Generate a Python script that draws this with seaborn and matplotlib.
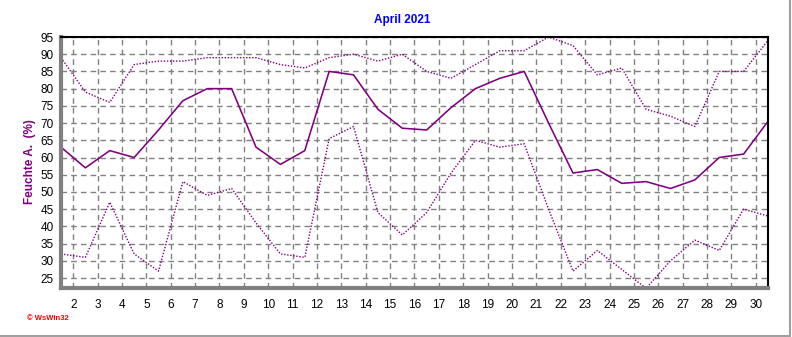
import numpy as np
import pandas as pd
import matplotlib
matplotlib.use("Agg")
import matplotlib.pyplot as plt
from matplotlib.lines import Line2D
import seaborn as sns

days = list(range(1, 31))
hum_max = [89, 79, 76, 87, 88, 88, 89, 89, 89, 87, 86, 89, 90, 88, 90,
           85, 83, 87, 91, 91, 95, 92.5, 84, 86, 74, 72, 69, 85, 85, 94]
hum_mean = [63, 57, 62, 60, 68, 76.5, 80, 80, 63, 58, 62, 85, 84, 74, 68.5,
            68, 74.5, 80, 83, 85, 70, 55.5, 56.5, 52.5, 53, 51, 53.5, 60, 61, 70.5]
hum_min = [32, 31, 47, 32, 27, 53, 49, 51, 41, 32, 31, 65.5, 69, 44, 37.5,
           44, 55.5, 65, 63, 64, 45, 27, 33, 27.5, 22, 30, 36, 33, 45, 43]
x_ticks = list(range(2, 31))
y_ticks = list(range(25, 96, 5))

sns.set_style("white")
plt.rcParams['font.family'] = ['Liberation Sans', 'DejaVu Sans']

df = pd.DataFrame({"day": np.array(days) + 0.5, "max": hum_max,
                   "mean": hum_mean, "min": hum_min})

fig = plt.figure(figsize=(7.92, 3.37), dpi=100)
ax = fig.add_axes([61/792, 1-288/337, (768-61)/792, (288-37)/337])

purple = "#800080"
sns.lineplot(data=df, x="day", y="max", ax=ax, color=purple, lw=1.0,
             linestyle=(0, (1, 1.2)))
sns.lineplot(data=df, x="day", y="mean", ax=ax, color=purple, lw=1.15)
sns.lineplot(data=df, x="day", y="min", ax=ax, color=purple, lw=1.0,
             linestyle=(0, (1, 1.2)))

ax.set_xlim(1.5, 30.5)
ax.set_ylim(22.1, 95)
ax.set_xticks(x_ticks)
ax.set_xticks(np.arange(1.5, 30.51, 0.25), minor=True)
ax.set_yticks(y_ticks)
ax.set_xticklabels([str(t) for t in x_ticks])
ax.grid(True, which="major", color="#808080", linestyle=(0, (4, 3)), lw=1)
ax.set_axisbelow(True)
ax.tick_params(axis="both", which="major", labelsize=8.5, colors="#808080",
               labelcolor="black", direction="out", length=3, width=1)
ax.tick_params(axis="x", which="minor", length=2.5, color="#808080", width=1)
ax.tick_params(axis="x", which="major", pad=5)
ax.tick_params(axis="y", which="major", pad=2)

for s in ["top", "right"]:
    ax.spines[s].set_color("black")
    ax.spines[s].set_linewidth(1.5)
for s in ["left", "bottom"]:
    ax.spines[s].set_color("#808080")
    ax.spines[s].set_linewidth(3)

ax.set_xlabel("")
ax.set_ylabel("Feuchte A.  (%)", color=purple, fontsize=8.5, fontweight="bold")
ax.yaxis.set_label_coords(-0.0354, 0.502)

fig.text(402/792, 1-20/337, "April 2021", color="#0000ff", fontsize=8.5,
         fontweight="bold", ha="center", va="center")
fig.text(27/792, 1-319/337, "\u00a9 WsWin32", color="#ff0000", fontsize=5.5,
         fontweight="bold", ha="left", va="center")

# panel frame on right and bottom
fig.add_artist(Line2D([789.5/792, 789.5/792], [1-336/337, 1], transform=fig.transFigure,
                      color="#a0a0a0", lw=1.5))
fig.add_artist(Line2D([0, 790/792], [1-335.5/337, 1-335.5/337], transform=fig.transFigure,
                      color="#a0a0a0", lw=1.5))

fig.savefig("out.png", dpi=100)
